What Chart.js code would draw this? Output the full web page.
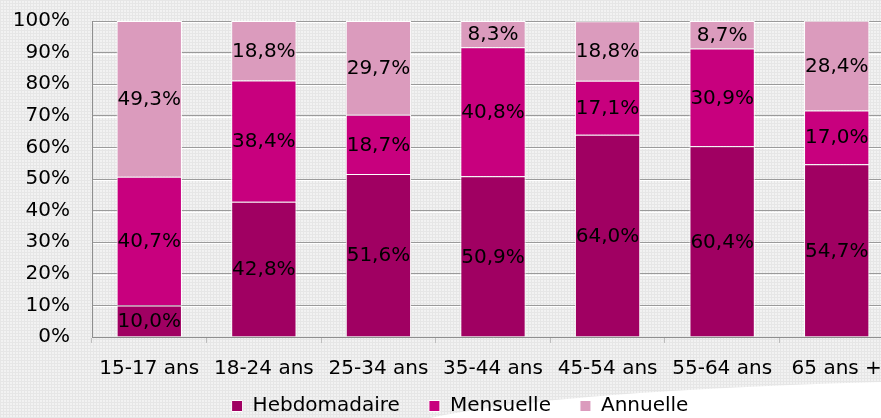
<!DOCTYPE html>
<html>
<head>
<meta charset="utf-8">
<script src="https://cdn.jsdelivr.net/npm/chart.js@4.4.1/dist/chart.umd.min.js"></script>
<style>
  html, body { margin: 0; padding: 0; overflow: hidden; background: #eeeeee; }
  #wrap { width: 916px; height: 418px; }
</style>
</head>
<body>
<div id="wrap"><canvas id="freqChart"></canvas></div>
<script>
const categories = ["15-17 ans", "18-24 ans", "25-34 ans", "35-44 ans", "45-54 ans", "55-64 ans", "65 ans +"];
const hebdomadaire = [10.0, 42.8, 51.6, 50.9, 64.0, 60.4, 54.7];
const mensuelle = [40.7, 38.4, 18.7, 40.8, 17.1, 30.9, 17.0];
const annuelle = [49.3, 18.8, 29.7, 8.3, 18.8, 8.7, 28.4];
const yTicks = [0, 10, 20, 30, 40, 50, 60, 70, 80, 90, 100];

const font = { family: "DejaVu Sans", size: 20 };

// dotted grey background with the white sweep in the lower right corner
let tile = document.createElement("canvas");
tile.width = 3; tile.height = 3;
let tctx = tile.getContext("2d");
tctx.fillStyle = "#f2f2f2";
tctx.fillRect(0, 0, 3, 3);
tctx.fillStyle = "#e6e6e6";
tctx.fillRect(0, 0, 3, 1);
tctx.fillRect(0, 0, 1, 3);

const background = {
  id: "background",
  beforeDraw(chart) {
    const c = chart.ctx;
    c.save();
    c.fillStyle = c.createPattern(tile, "repeat");
    c.fillRect(0, 0, chart.width, chart.height);
    c.fillStyle = "#ffffff";
    c.beginPath();
    c.moveTo(430, 418);
    c.quadraticCurveTo(560, 390, 916, 381);
    c.lineTo(916, 418);
    c.closePath();
    c.fill();
    c.restore();
  },
};

// white highlight under each grid line (embossed look)
const gridShine = {
  id: "gridShine",
  beforeDatasetsDraw(chart) {
    const c = chart.ctx;
    const area = chart.chartArea;
    const y = chart.scales.y;
    c.save();
    c.strokeStyle = "#ffffff";
    c.lineWidth = 1;
    y.ticks.forEach(t => {
      const py = Math.round(y.getPixelForValue(t.value)) + 1.5;
      if (t.value === 0) return;
      c.beginPath();
      c.moveTo(area.left + 1, py);
      c.lineTo(area.right, py);
      c.stroke();
    });
    c.restore();
  },
};

// legend: wide gaps between items but a small height, moved up and right
const legendFix = {
  id: "legendFix",
  afterInit(chart) {
    const lg = chart.legend;
    const fit = lg.fit;
    lg.fit = function () {
      fit.call(this);
      this.height = 35;
    };
  },
  afterLayout(chart) {
    const lg = chart.legend;
    lg.left += 13;
    lg.right += 13;
    lg.top -= 16;
  },
};

const valueLabels = {
  id: "valueLabels",
  afterDatasetsDraw(chart) {
    const c = chart.ctx;
    c.save();
    c.font = "20px 'DejaVu Sans'";
    c.fillStyle = "#000";
    c.textAlign = "center";
    c.textBaseline = "middle";
    chart.data.datasets.forEach((ds, i) => {
      chart.getDatasetMeta(i).data.forEach((bar, j) => {
        const txt = ds.data[j].toFixed(1).replace(".", ",") + "%";
        c.fillText(txt, bar.x, (bar.y + bar.base) / 2 + 1);
      });
    });
    c.restore();
  },
};

new Chart(document.getElementById("freqChart"), {
  type: "bar",
  data: {
    labels: categories,
    datasets: [
      { label: "Hebdomadaire", data: hebdomadaire, backgroundColor: "#a00062" },
      { label: "Mensuelle", data: mensuelle, backgroundColor: "#c8007e" },
      { label: "Annuelle", data: annuelle, backgroundColor: "#db9bbd" },
    ],
  },
  options: {
    responsive: true,
    maintainAspectRatio: false,
    animation: false,
    datasets: {
      bar: {
        borderColor: "#ffffff",
        borderWidth: 1,
        categoryPercentage: 1,
        barPercentage: 0.57,
      },
    },
    layout: { padding: { top: 0, right: 22, left: 0, bottom: 0 } },
    plugins: {
      legend: {
        position: "bottom",
        labels: {
          color: "#000",
          font: font,
          boxWidth: 11,
          boxHeight: 11,
          padding: 29,
        },
      },
      tooltip: { enabled: false },
    },
    scales: {
      x: {
        stacked: true,
        afterFit(scale) {
          scale.height = 46;
        },
        grid: { display: true, drawOnChartArea: false, tickLength: 6, color: "#bdbdbd" },
        border: { color: "#8e8e8e" },
        ticks: { color: "#000", font: font, padding: 14, maxRotation: 0 },
      },
      y: {
        stacked: true,
        min: 0,
        max: 100,
        afterBuildTicks(scale) {
          scale.ticks = yTicks.map(v => ({ value: v }));
        },
        afterFit(scale) {
          scale.width = 92;
          scale.paddingTop = 21;
          scale.paddingBottom = 0;
        },
        grid: { color: "#9a9a9a", tickLength: 0 },
        border: { color: "#8e8e8e" },
        ticks: {
          color: "#000",
          font: font,
          padding: 22,
          callback: v => v + "%",
        },
      },
    },
  },
  plugins: [background, gridShine, legendFix, valueLabels],
});
</script>
</body>
</html>
